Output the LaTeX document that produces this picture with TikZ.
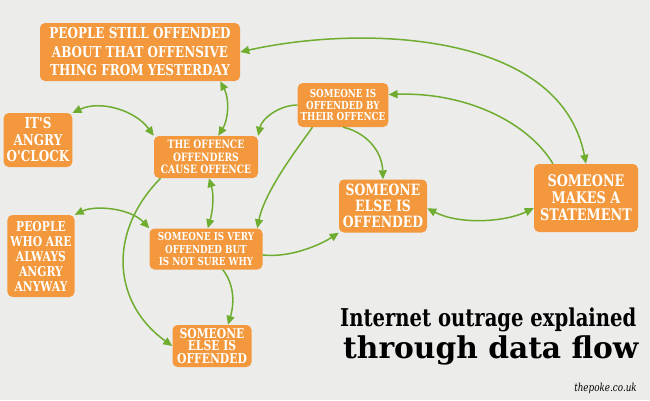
\documentclass[tikz,border=0pt]{standalone}
\usepackage{fontspec}
\setmainfont{DejaVu Serif}
\newfontfamily\boxfont{DejaVu Serif}[FakeStretch=0.8]
\newfontfamily\headfont{DejaVu Serif}[FakeStretch=0.8]
\newfontfamily\subfont{DejaVu Serif}[FakeStretch=0.99]
\usetikzlibrary{arrows.meta}
\definecolor{paper}{RGB}{236,236,234}
\definecolor{boxorange}{RGB}{243,152,60}
\definecolor{flowgreen}{RGB}{111,173,48}
\tikzset{
  box/.style n args={2}{fill=boxorange, rounded corners=5pt, text=white, align=center,
    inner sep=3pt, font=\boxfont\bfseries\fontsize{#1}{#2}\selectfont},
  tip/.tip={Triangle[length=9pt,width=8pt]},
  flow/.style={draw=flowgreen, line width=1.5pt, -tip},
  both/.style={flow, tip-tip}
}
\begin{document}
\begin{tikzpicture}[x=1pt,y=-1pt]
      \fill[paper] (0,0) rectangle (650,400);
      \useasboundingbox (0,0) rectangle (650,400);
      % boxes
      \node[box={15}{18.5}, minimum width=200pt, minimum height=58pt] (yesterday) at (140,52)
          {PEOPLE STILL OFFENDED\\ABOUT THAT OFFENSIVE\\THING FROM YESTERDAY};
      \node[box={15}{16.5}, minimum width=67pt, minimum height=54pt] (angry) at (38,140)
          {IT'S\\ANGRY\\O'CLOCK};
      \node[box={11.5}{12.5}, minimum width=104pt, minimum height=42pt] (offenders) at (206,157)
          {THE OFFENCE\\OFFENDERS\\CAUSE OFFENCE};
      \node[box={11}{11.5}, minimum width=87pt, minimum height=44pt] (theirs) at (343,105)
          {SOMEONE IS\\OFFENDED BY\\THEIR OFFENCE};
      \node[box={15.5}{16}, minimum width=88pt, minimum height=53pt] (elsemid) at (383,206)
          {SOMEONE\\ELSE IS\\OFFENDED};
      \node[box={16}{17}, minimum width=104pt, minimum height=68pt] (statement) at (586,198)
          {SOMEONE\\MAKES A\\STATEMENT};
      \node[box={13.5}{15}, minimum width=63pt, minimum height=82pt] (always) at (41,256)
          {PEOPLE\\WHO ARE\\ALWAYS\\ANGRY\\ANYWAY};
      \node[box={11}{12.5}, minimum width=113pt, minimum height=41pt] (notsure) at (206,249)
          {SOMEONE IS VERY\\OFFENDED BUT\\IS NOT SURE WHY};
      \node[box={13.5}{12.5}, minimum width=79pt, minimum height=42pt] (elsebot) at (212,346)
          {SOMEONE\\ELSE IS\\OFFENDED};
      % flows
      \draw[both] (yesterday.east) .. controls (360,25) and (560,30) .. (statement.north);
      \draw[flow] (statement.134) .. controls (530,125) and (470,92) .. (theirs.13);
      \draw[flow] (theirs.south) .. controls (365,132) and (382,150) .. (elsemid.north);
      \draw[flow] (theirs.west) .. controls (280,105) and (262,118) .. (offenders.north east);
      \draw[flow] (theirs.216) .. controls (300,145) and (265,190) .. (notsure.22);
      \draw[both] (yesterday.-20) .. controls (230,100) and (228,120) .. (offenders.60);
      \draw[both] (angry.north east) .. controls (100,100) and (135,110) .. (offenders.north west);
      \draw[both] (offenders.-82) .. controls (214,195) and (213,210) .. (notsure.85);
      \draw[both] (always.north east) .. controls (95,205) and (130,208) .. (notsure.north west);
      \draw[flow] (offenders.205) .. controls (105,235) and (115,305) .. (elsebot.west);
      \draw[flow] (notsure.-51) .. controls (235,285) and (234,305) .. (elsebot.53);
      \draw[flow] (notsure.-6) .. controls (290,258) and (320,245) .. (elsemid.south west);
      \draw[both] (elsemid.-3) .. controls (460,225) and (505,222) .. (statement.191);
      % title
      \node[anchor=base west, inner sep=0pt, font=\headfont\bfseries\fontsize{24.5}{26}\selectfont]
          (headline) at (340,326) {Internet outrage explained};
      \node[anchor=base west, inner sep=0pt, font=\subfont\bfseries\fontsize{30}{32}\selectfont]
          (subline) at (343,358) {through data flow};
      \node[anchor=base east, inner sep=0pt, font=\headfont\itshape\fontsize{11}{12}\selectfont]
          (credit) at (637,391) {thepoke.co.uk};
\end{tikzpicture}
\end{document}
